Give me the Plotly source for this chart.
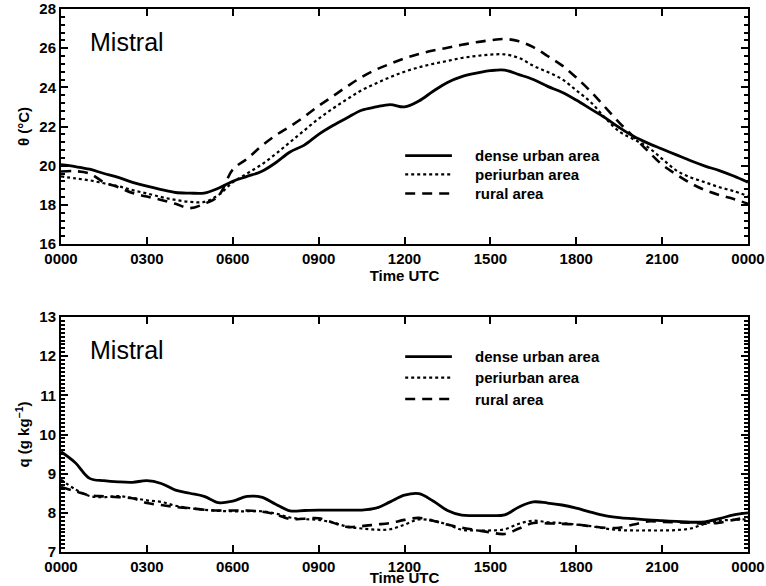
import plotly.graph_objects as go

# time axis (hours UTC, half-hourly)
hours = [i * 0.5 for i in range(49)]
tick_hours = [0, 3, 6, 9, 12, 15, 18, 21, 24]
tick_text = ['0000', '0300', '0600', '0900', '1200', '1500', '1800', '2100', '0000']

# potential temperature (deg C)
theta_dense = [20.05, 19.95, 19.82, 19.6, 19.4, 19.15, 18.95, 18.78, 18.63, 18.6,
               18.6, 18.85, 19.2, 19.45, 19.7, 20.15, 20.7, 21.05, 21.6, 22.05,
               22.45, 22.83, 23.0, 23.12, 23.0, 23.3, 23.8, 24.25, 24.55, 24.72,
               24.85, 24.88, 24.65, 24.4, 24.05, 23.75, 23.35, 22.9, 22.45, 21.95,
               21.5, 21.15, 20.85, 20.55, 20.25, 19.98, 19.75, 19.47, 19.15]
theta_peri = [19.45, 19.35, 19.25, 19.1, 18.95, 18.75, 18.58, 18.4, 18.25, 18.15,
              18.15, 18.5, 19.15, 19.6, 20.05, 20.6, 21.2, 21.8, 22.4, 22.92,
              23.4, 23.85, 24.2, 24.52, 24.8, 25.02, 25.2, 25.35, 25.5, 25.6,
              25.67, 25.68, 25.5, 25.1, 24.78, 24.42, 23.85, 23.25, 22.45, 21.75,
              21.35, 20.95, 20.35, 19.75, 19.4, 19.15, 18.9, 18.7, 18.45]
theta_rural = [19.7, 19.72, 19.6, 19.15, 18.9, 18.6, 18.42, 18.25, 18.05, 17.83,
               18.05, 18.45, 19.8, 20.35, 21.0, 21.55, 22.0, 22.5, 23.05, 23.55,
               24.05, 24.52, 24.9, 25.2, 25.48, 25.7, 25.88, 26.02, 26.17, 26.3,
               26.4, 26.47, 26.35, 26.05, 25.6, 25.12, 24.5, 23.8, 23.0, 22.2,
               21.48, 20.75, 20.05, 19.55, 19.1, 18.75, 18.5, 18.3, 18.05]

# specific humidity (g/kg)
q_dense = [9.56, 9.28, 8.88, 8.82, 8.79, 8.78, 8.82, 8.75, 8.58, 8.5,
           8.42, 8.26, 8.3, 8.42, 8.4, 8.22, 8.05, 8.06, 8.07, 8.07,
           8.07, 8.07, 8.12, 8.28, 8.45, 8.49, 8.3, 8.06, 7.94, 7.93,
           7.93, 7.95, 8.15, 8.28, 8.25, 8.2, 8.12, 8.02, 7.93, 7.88,
           7.85, 7.82, 7.8, 7.78, 7.76, 7.77, 7.85, 7.95, 8.0]
q_peri = [8.85, 8.6, 8.43, 8.4, 8.43, 8.38, 8.32, 8.28, 8.18, 8.12,
          8.08, 8.05, 8.04, 8.04, 8.04, 7.98, 7.88, 7.84, 7.82, 7.75,
          7.65, 7.6, 7.57, 7.58, 7.7, 7.83, 7.8, 7.7, 7.57, 7.55,
          7.55, 7.58, 7.72, 7.8, 7.76, 7.74, 7.7, 7.66, 7.6, 7.56,
          7.55, 7.55, 7.55, 7.56, 7.6, 7.72, 7.8, 7.82, 7.84]
q_rural = [8.66, 8.55, 8.45, 8.42, 8.4, 8.37, 8.25, 8.2, 8.15, 8.12,
           8.08, 8.06, 8.06, 8.06, 8.03, 7.96, 7.84, 7.85, 7.86, 7.75,
           7.64, 7.66, 7.7, 7.74, 7.82, 7.87, 7.8, 7.7, 7.62, 7.56,
           7.5, 7.46, 7.6, 7.74, 7.73, 7.72, 7.7, 7.66, 7.62, 7.62,
           7.7, 7.78, 7.77, 7.76, 7.75, 7.72, 7.75, 7.82, 7.89]

names = ['dense urban area', 'periurban area', 'rural area']
styles = [dict(width=2.8, dash='solid'),
          dict(width=2.2, dash='dot'),
          dict(width=2.6, dash='10px,7px')]

fig = go.Figure()

for name, ys, st in zip(names, [theta_dense, theta_peri, theta_rural], styles):
    fig.add_trace(go.Scatter(x=hours, y=ys, mode='lines', name=name, showlegend=False,
                             line=dict(color='black', shape='spline', **st),
                             xaxis='x', yaxis='y'))

for name, ys, st in zip(names, [q_dense, q_peri, q_rural], styles):
    fig.add_trace(go.Scatter(x=hours, y=ys, mode='lines', name=name, showlegend=False,
                             line=dict(color='black', shape='spline', **st),
                             xaxis='x2', yaxis='y2'))

tickfont = dict(family='Liberation Sans', size=15, color='black', weight='bold')
titlefont = dict(family='Liberation Sans', size=15, color='black', weight='bold')
legfont = dict(family='Liberation Sans', size=15, color='black', weight='bold')

xcommon = dict(range=[0, 24], tickvals=tick_hours, ticktext=tick_text,
               ticks='inside', ticklen=7, tickwidth=1.5, tickcolor='black',
               showline=True, linecolor='black', linewidth=2, mirror='ticks',
               showgrid=False, zeroline=False, tickfont=tickfont,
               automargin=False, domain=[61 / 766, 748 / 766])
ycommon = dict(ticks='inside', ticklen=7, tickwidth=1.5, tickcolor='black',
               showline=True, linecolor='black', linewidth=2, mirror='ticks',
               showgrid=False, zeroline=False, tickfont=tickfont,
               automargin=False)

fig.update_layout(
    width=766, height=586,
    margin=dict(l=0, r=0, t=0, b=0),
    paper_bgcolor='white', plot_bgcolor='white',
    showlegend=False,
    xaxis=dict(xcommon, anchor='y',
               title=dict(text='Time UTC', font=titlefont, standoff=0)),
    yaxis=dict(ycommon, anchor='x', range=[16, 28], dtick=2,
               domain=[(586 - 244) / 586, (586 - 9) / 586],
               minor=dict(ticks='inside', ticklen=4, tickcolor='black', dtick=0.4),
               title=dict(text='θ (°C)', font=titlefont, standoff=6)),
    xaxis2=dict(xcommon, anchor='y2',
                title=dict(text='Time UTC', font=titlefont, standoff=3)),
    yaxis2=dict(ycommon, anchor='x2', range=[7, 13], dtick=1,
                domain=[(586 - 552) / 586, (586 - 317) / 586],
                minor=dict(ticks='inside', ticklen=4, tickcolor='black', dtick=0.1),
                title=dict(text='q (g kg<sup>−1</sup>)', font=titlefont, standoff=6)),
)

# legend keys drawn inside each panel (domain coordinates)
legend_rows = {'': [0.376, 0.296, 0.215], '2': [0.831, 0.742, 0.651]}
for ax, rows in legend_rows.items():
    xref, yref = 'x%s domain' % ax, 'y%s domain' % ax
    for name, st, yy in zip(names, styles, rows):
        fig.add_shape(type='line', xref=xref, yref=yref, x0=0.501, x1=0.569,
                      y0=yy, y1=yy, line=dict(color='black', **st))
        fig.add_annotation(text=name, xref=xref, yref=yref, x=0.600, y=yy,
                           xanchor='left', yanchor='middle', showarrow=False,
                           font=legfont)
    fig.add_annotation(text='Mistral', xref=xref, yref=yref, x=0.04, y=0.86,
                       xanchor='left', yanchor='middle', showarrow=False,
                       font=dict(family='Liberation Sans', size=25, color='black'))

fig.write_html('out.html', config={'displayModeBar': False},
               post_script="document.body.style.margin='0px';")
